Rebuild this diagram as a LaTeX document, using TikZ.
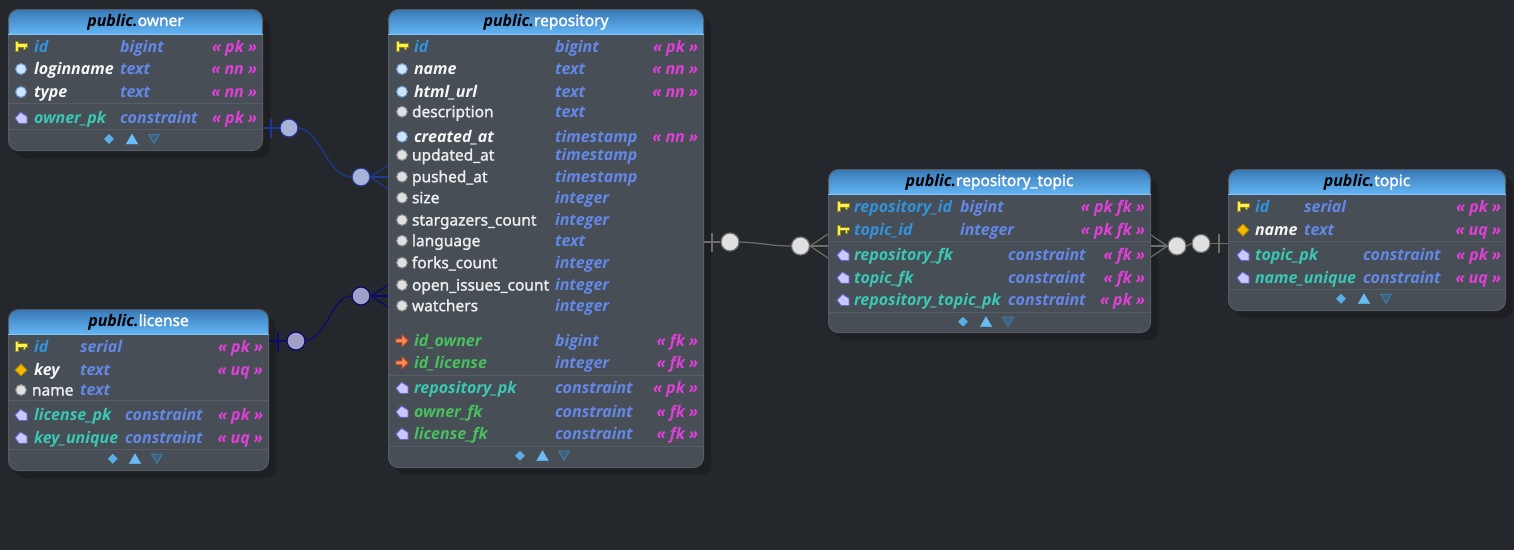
\documentclass[tikz,border=0pt]{standalone}
\usepackage{fontspec}
\setmainfont{Noto Sans}
\newfontfamily\rowfont{Open Sans}
\newfontfamily\plainfont{Noto Sans}[FakeBold=1.6]
\definecolor{bgc}{HTML}{24272C}
\definecolor{shc}{HTML}{1D1F23}
\definecolor{bodyc}{HTML}{474E56}
\definecolor{edgec}{HTML}{555C64}
\definecolor{sepc}{HTML}{575E66}
\definecolor{htop}{HTML}{3A7AB8}
\definecolor{hbot}{HTML}{66B8F6}
\definecolor{pkc}{HTML}{3392DC}
\definecolor{typec}{HTML}{6488E8}
\definecolor{tagc}{HTML}{E040D8}
\definecolor{conc}{HTML}{3AC8B4}
\definecolor{fkc}{HTML}{48C060}
\definecolor{whc}{HTML}{F6F6F6}
\definecolor{plainc}{HTML}{ECECEC}
\definecolor{lineA}{HTML}{1F3A93}
\definecolor{fillA}{HTML}{AAB2DA}
\definecolor{lineB}{HTML}{0A0A6E}
\definecolor{fillB}{HTML}{A0A0C8}
\definecolor{lineC}{HTML}{6E6E6E}
\definecolor{fillC}{HTML}{E0E0E0}
\definecolor{keyf}{HTML}{FFF14A}
\definecolor{keye}{HTML}{8A8420}
\definecolor{nnf}{HTML}{CFE4FF}
\definecolor{nne}{HTML}{6E9CD6}
\definecolor{plE}{HTML}{8A8A8A}
\definecolor{uqf}{HTML}{F5B800}
\definecolor{uqe}{HTML}{B08600}
\definecolor{fkf}{HTML}{FF8A50}
\definecolor{fke}{HTML}{D04A2A}
\definecolor{conf}{HTML}{C8C8FF}
\definecolor{cone}{HTML}{7060D0}
\definecolor{fd}{HTML}{5AAEE8}
\definecolor{fu}{HTML}{6ABCF5}
\definecolor{fdf}{HTML}{3F5F78}
\definecolor{fde}{HTML}{3F7CA8}
\tikzset{
  txt/.style={inner sep=0pt,outer sep=0pt,yshift=-.5pt,font=\rowfont\fontsize{16}{16}\selectfont\bfseries\itshape},
  nmkey/.style={txt,anchor=base west,text=pkc},
  nmnn/.style={txt,anchor=base west,text=whc},
  nmplain/.style={txt,anchor=base west,text=plainc,font=\plainfont\fontsize{15.5}{15}\selectfont,xshift=-2pt},
  nmfk/.style={txt,anchor=base west,text=fkc},
  nmcon/.style={txt,anchor=base west,text=conc},
  typetxt/.style={txt,anchor=base west,text=typec},
  tagtxt/.style={txt,anchor=base east,text=tagc},
  entity/.style={draw=edgec,line width=1pt,fill=bodyc,rounded corners=10pt,anchor=north west,inner sep=0pt,
    path picture={\foreach \i in {0,...,24}{\pgfmathsetmacro\mixp{\i*4}
      \fill[hbot!\mixp!htop,sharp corners] ([yshift=-\i pt]path picture bounding box.north west) rectangle ([yshift=-\i pt-1.2pt]path picture bounding box.north east);}}},
  headtxt/.style={inner sep=0pt,anchor=base,font=\plainfont\fontsize{15.5}{15}\selectfont,text=white},
  circA/.style={circle,draw=lineA,fill=fillA,line width=1.2pt,minimum size=18pt,inner sep=0pt},
  circB/.style={circle,draw=lineB,fill=fillB,line width=1.2pt,minimum size=18pt,inner sep=0pt},
  circC/.style={circle,draw=lineC,fill=fillC,line width=1.2pt,minimum size=18pt,inner sep=0pt},
  ikey/.pic={\fill[draw=keye,line width=1pt,fill=keyf]
      (-6,-5) -- (-2.5,-5) -- (-2.5,-3) -- (6.5,-3) -- (6.5,.8) -- (4.5,.8) -- (4.5,3.2) -- (2,3.2) -- (2,.8) -- (-2.5,.8) -- (-2.5,5) -- (-6,5) -- cycle;},
  inn/.pic={\fill[draw=nne,line width=1pt,fill=nnf] (0,0) circle (5.4);},
  iplain/.pic={\fill[draw=plE,line width=1pt,fill=fillC] (0,0) circle (5.4);},
  iuq/.pic={\fill[draw=uqe,line width=.8pt,fill=uqf] (-6,0) -- (0,-6) -- (6,0) -- (0,6) -- cycle;},
  ifk/.pic={\fill[draw=fke,line width=.8pt,fill=fkf]
      (-6,-1.8) -- (0,-1.8) -- (0,-6) -- (6,0) -- (0,6) -- (0,1.8) -- (-6,1.8) -- cycle;},
  icon/.pic={\fill[draw=cone,line width=.9pt,fill=conf]
      (-6,0) -- (-.5,-5.7) -- (6,-1.7) -- (6,5.5) -- (-2,5.5) -- cycle;},
  fdia/.pic={\fill[draw=fd,line width=.4pt,fill=fd] (-4.6,0) -- (0,-4.6) -- (4.6,0) -- (0,4.6) -- cycle;},
  fup/.pic={\fill[draw=fu,line width=.4pt,fill=fu] (-5.8,5) -- (0,-5) -- (5.8,5) -- cycle;},
  fdn/.pic={\draw[draw=fde,line width=1pt,fill=fdf] (-5.3,-4.5) -- (5.3,-4.5) -- (0,4.5) -- cycle;},
}
\newcommand\entitybox[6]{%
  \fill[shc,rounded corners=10pt,xshift=8pt,yshift=-8pt] (#2,#3) rectangle ++(#4,#5);
  \node[entity,minimum width=#4 pt,minimum height=#5 pt] (#1) at (#2,#3) {};
  \draw[hbot!80!white,line width=1pt] ([yshift=-25pt]#1.north west) -- ([yshift=-25pt]#1.north east);
  \node[headtxt] (#1head) at ([yshift=-17pt]#1.north) {{\rowfont\bfseries\itshape\fontsize{16}{16}\selectfont\textcolor{black}{public.}}#6};
}
\newcommand\seprule[3]{\draw[sepc,line width=.8pt] ([xshift=.5pt]#1.west |- 0,#2) -- ([xshift=-.5pt]#1.east |- 0,#2);}
\newcommand\erow[8]{%
  \pic at (\icx,#2-5) {#3};
  \node[#4] (#1n) at (\nmx,#2) {#5};
  \node[typetxt] (#1t) at (#6,#2) {#7};
  \if\relax\detokenize{#8}\relax\else\node[tagtxt] (#1g) at (\tgx,#2) {#8};\fi
}
\newcommand\footicons[4]{%
  \pic at (#1,#4) {fdia};\pic at (#2,#4) {fup};\pic at (#3,#4) {fdn};
}
\begin{document}
\begin{tikzpicture}[x=1pt,y=-1pt]
\useasboundingbox (0,0) rectangle (1514,550);
\fill[bgc] (0,0) rectangle (1514,550);
% --- owner
\entitybox{owner}{8}{9}{254}{141}{owner}
\def\icx{21}\def\nmx{34}\def\tgx{257}
\erow{oa}{51.5}{ikey}{nmkey}{id}{120}{bigint}{« pk »}
\erow{ob}{74}{inn}{nmnn}{loginname}{120}{text}{« nn »}
\erow{oc}{97}{inn}{nmnn}{type}{120}{text}{« nn »}
\seprule{owner}{103}{}
\erow{od}{123}{icon}{nmcon}{owner\_pk}{120}{constraint}{« pk »}
\seprule{owner}{129}{}
\footicons{109}{132}{154}{139}
% --- license
\entitybox{license}{8}{309}{260}{161}{license}
\def\tgx{263}
\erow{la}{351.7}{ikey}{nmkey}{id}{80}{serial}{« pk »}
\erow{lb}{375}{iuq}{nmnn}{key}{80}{text}{« uq »}
\erow{lc}{395}{iplain}{nmplain}{name}{80}{text}{}
\seprule{license}{400.7}{}
\erow{ld}{420}{icon}{nmcon}{license\_pk}{125}{constraint}{« pk »}
\erow{le}{442.7}{icon}{nmcon}{key\_unique}{125}{constraint}{« uq »}
\seprule{license}{449.3}{}
\footicons{112.7}{135}{157}{458.7}
% --- repository
\entitybox{repository}{388}{9}{315}{458}{repository}
\def\icx{402}\def\nmx{414}\def\tgx{698}
\erow{ra}{51.5}{ikey}{nmkey}{id}{555}{bigint}{« pk »}
\erow{rb}{74}{inn}{nmnn}{name}{555}{text}{« nn »}
\erow{rc}{96.7}{inn}{nmnn}{html\_url}{555}{text}{« nn »}
\erow{rd}{116.7}{iplain}{nmplain}{description}{555}{text}{}
\erow{re}{141.7}{inn}{nmnn}{created\_at}{555}{timestamp}{« nn »}
\erow{rf}{160}{iplain}{nmplain}{updated\_at}{555}{timestamp}{}
\erow{rg}{181.7}{iplain}{nmplain}{pushed\_at}{555}{timestamp}{}
\erow{rh}{202.7}{iplain}{nmplain}{size}{555}{integer}{}
\erow{ri}{225}{iplain}{nmplain}{stargazers\_count}{555}{integer}{}
\erow{rj}{245.7}{iplain}{nmplain}{language}{555}{text}{}
\erow{rk}{267.7}{iplain}{nmplain}{forks\_count}{555}{integer}{}
\erow{rl}{290}{iplain}{nmplain}{open\_issues\_count}{555}{integer}{}
\erow{rm}{310.7}{iplain}{nmplain}{watchers}{555}{integer}{}
\erow{rn}{345.7}{ifk}{nmfk}{id\_owner}{555}{bigint}{« fk »}
\erow{ro}{367.7}{ifk}{nmfk}{id\_license}{555}{integer}{« fk »}
\seprule{repository}{375.7}{}
\erow{rp}{393}{icon}{nmcon}{repository\_pk}{555}{constraint}{« pk »}
\erow{rq}{416.7}{icon}{nmfk}{owner\_fk}{555}{constraint}{« fk »}
\erow{rr}{439}{icon}{nmfk}{license\_fk}{555}{constraint}{« fk »}
\seprule{repository}{446}{}
\footicons{520}{542.5}{564}{455.7}
% --- repository_topic
\entitybox{rtopic}{828}{169}{322}{163}{repository\_topic}
\def\icx{843}\def\nmx{854}\def\tgx{1145}
\erow{ta}{211.7}{ikey}{nmkey}{repository\_id}{960}{bigint}{« pk fk »}
\erow{tb}{235}{ikey}{nmkey}{topic\_id}{960}{integer}{« pk fk »}
\seprule{rtopic}{241.3}{}
\erow{tc}{260}{icon}{nmcon}{repository\_fk}{1008}{constraint}{« fk »}
\erow{td}{282.7}{icon}{nmcon}{topic\_fk}{1008}{constraint}{« fk »}
\erow{te}{305}{icon}{nmcon}{repository\_topic\_pk}{1008}{constraint}{« pk »}
\seprule{rtopic}{312.3}{}
\footicons{963}{986}{1008}{321.7}
% --- topic
\entitybox{topic}{1228}{169}{277}{141}{topic}
\def\icx{1243}\def\nmx{1255}\def\tgx{1501}
\erow{pa}{211.7}{ikey}{nmkey}{id}{1304}{serial}{« pk »}
\erow{pb}{235}{iuq}{nmnn}{name}{1304}{text}{« uq »}
\seprule{topic}{241.3}{}
\erow{pc}{260}{icon}{nmcon}{topic\_pk}{1363}{constraint}{« pk »}
\erow{pd}{282.7}{icon}{nmcon}{name\_unique}{1363}{constraint}{« uq »}
\seprule{topic}{289.3}{}
\footicons{1341}{1364}{1386}{298.7}
% --- connectors
\node[circA] (ca1) at (289,128) {};
\node[circA] (ca2) at (361,177) {};
\node[circB] (cb1) at (296,341) {};
\node[circB] (cb2) at (361,296) {};
\node[circC] (cc1) at (730,242) {};
\node[circC] (cc2) at (800.5,246) {};
\node[circC] (cd1) at (1177,246) {};
\node[circC] (cd2) at (1201,243.5) {};
\draw[lineA,line width=1.2pt] (owner.east |- ca1) -- (ca1);
\draw[lineA,line width=1.2pt] ([shift={(-18pt,-9.5pt)}]ca1.center) -- ([shift={(-18pt,9.5pt)}]ca1.center);
\draw[lineA,line width=1.2pt] (ca1.east) .. controls +(22,2) and +(-24,0) .. (ca2.west);
\draw[lineA,line width=1.2pt] (ca2.east) -- ([yshift=12pt]repository.west |- ca2);
\draw[lineA,line width=1.2pt] (ca2.east) -- (repository.west |- ca2);
\draw[lineA,line width=1.2pt] (ca2.east) -- ([yshift=-12pt]repository.west |- ca2);
\draw[lineB,line width=1.2pt] (license.east |- cb1) -- (cb1);
\draw[lineB,line width=1.2pt] ([shift={(-18pt,-9.5pt)}]cb1.center) -- ([shift={(-18pt,9.5pt)}]cb1.center);
\draw[lineB,line width=1.2pt] (cb1.east) .. controls +(22,-4) and +(-20,0) .. (cb2.west);
\draw[lineB,line width=1.2pt] (cb2.east) -- ([yshift=11pt]repository.west |- cb2);
\draw[lineB,line width=1.2pt] (cb2.east) -- (repository.west |- cb2);
\draw[lineB,line width=1.2pt] (cb2.east) -- ([yshift=-11pt]repository.west |- cb2);
\draw[lineC,line width=1.2pt] (repository.east |- cc1) -- (cc1);
\draw[lineC,line width=1.2pt] ([shift={(-18pt,-9.5pt)}]cc1.center) -- ([shift={(-18pt,9.5pt)}]cc1.center);
\draw[lineC,line width=1.2pt] (cc1.east) .. controls +(25,1) and +(-20,0) .. (cc2.west);
\draw[lineC,line width=1.2pt] (cc2.east) -- ([yshift=12pt]rtopic.west |- cc2);
\draw[lineC,line width=1.2pt] (cc2.east) -- (rtopic.west |- cc2);
\draw[lineC,line width=1.2pt] (cc2.east) -- ([yshift=-12pt]rtopic.west |- cc2);
\draw[lineC,line width=1.2pt] (cd1.west) -- ([yshift=11pt]rtopic.east |- cd1);
\draw[lineC,line width=1.2pt] (cd1.west) -- (rtopic.east |- cd1);
\draw[lineC,line width=1.2pt] (cd1.west) -- ([yshift=-11pt]rtopic.east |- cd1);
\draw[lineC,line width=1.2pt] (cd1.east) -- (cd2.west);
\draw[lineC,line width=1.2pt] (cd2.east) -- (topic.west |- cd2);
\draw[lineC,line width=1.2pt] ([shift={(18pt,-9.5pt)}]cd2.center) -- ([shift={(18pt,9.5pt)}]cd2.center);
\end{tikzpicture}
\end{document}
